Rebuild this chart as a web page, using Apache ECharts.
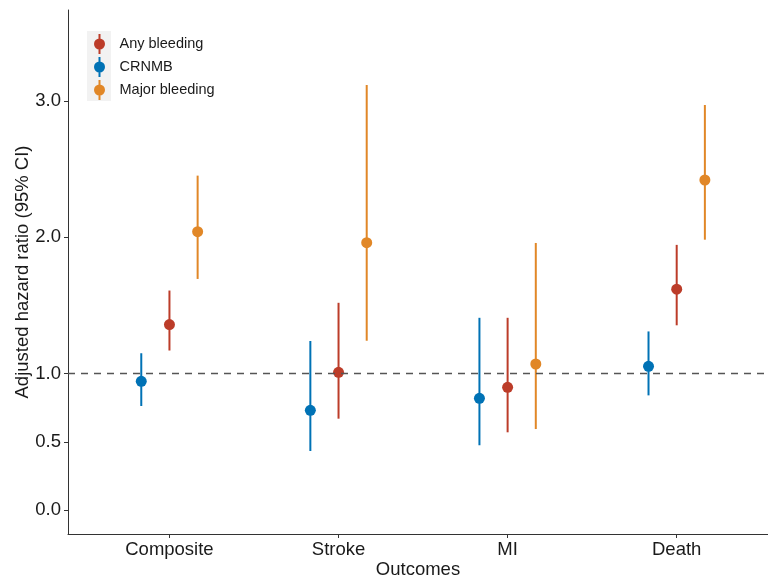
<!DOCTYPE html>
<html>
<head>
<meta charset="utf-8">
<style>
  html, body { margin: 0; padding: 0; background: #fff; }
  #main { width: 768px; height: 577px; }
</style>
<script src="https://cdn.jsdelivr.net/npm/echarts@6/dist/echarts.min.js"></script>
</head>
<body>
<div id="main"></div>
<script>
// data
const outcomes = ["Composite", "Stroke", "MI", "Death"];
const groups = ["Any bleeding", "CRNMB", "Major bleeding"];
const yTicks = [0, 0.5, 1, 2, 3];
const refLine = 1;

// hazard ratio + 95% CI per outcome
const anyHR = [1.36, 1.01, 0.90, 1.62];
const anyLow = [1.17, 0.67, 0.57, 1.355];
const anyHigh = [1.61, 1.52, 1.41, 1.945];

const crnmbHR = [0.944, 0.731, 0.819, 1.054];
const crnmbLow = [0.763, 0.433, 0.475, 0.841];
const crnmbHigh = [1.15, 1.24, 1.41, 1.31];

const majorHR = [2.042, 1.961, 1.071, 2.421];
const majorLow = [1.695, 1.242, 0.594, 1.983];
const majorHigh = [2.453, 3.118, 1.959, 2.971];

const colors = { "Any bleeding": "#BC3C29", "CRNMB": "#0072B5", "Major bleeding": "#E18727" };
const dodge = { "Any bleeding": 0, "CRNMB": -1 / 6, "Major bleeding": 1 / 6 };

const seriesData = {
  "Any bleeding": [anyHR, anyLow, anyHigh],
  "CRNMB": [crnmbHR, crnmbLow, crnmbHigh],
  "Major bleeding": [majorHR, majorLow, majorHigh]
};

const font = "Liberation Sans, Arial, sans-serif";
// point with a vertical bar through it, like the ggplot pointrange key
const keyIcon = "path://M9,0 h2 v20 h-2 z M4.5,10 a5.5,5.5 0 1,1 11,0 a5.5,5.5 0 1,1 -11,0 z";

let chart = echarts.init(document.getElementById("main"));

let series = [];
groups.forEach(function (g, gi) {
  let d = seriesData[g];
  let bars = outcomes.map(function (o, i) {
    return [i + 1 + dodge[g], d[1][i], d[2][i]];
  });
  let pts = outcomes.map(function (o, i) {
    return [i + 1 + dodge[g], d[0][i]];
  });
  series.push({
    name: g,
    type: "custom",
    data: bars,
    silent: true,
    z: 3,
    renderItem: function (params, api) {
      let p1 = api.coord([api.value(0), api.value(1)]);
      let p2 = api.coord([api.value(0), api.value(2)]);
      return {
        type: "line",
        shape: { x1: p1[0], y1: p1[1], x2: p2[0], y2: p2[1] },
        style: { stroke: colors[g], lineWidth: 2 }
      };
    }
  });
  series.push({
    name: g,
    type: "scatter",
    data: pts,
    symbol: "circle",
    symbolSize: 11,
    itemStyle: { color: colors[g], opacity: 1 },
    z: 4,
    markLine: gi === 0 ? {
      silent: true,
      symbol: "none",
      label: { show: false },
      lineStyle: { color: "#555", width: 1.3, type: [7, 6] },
      data: [{ yAxis: refLine }]
    } : undefined
  });
});

let option = {
  animation: false,
  color: groups.map(function (g) { return colors[g]; }),
  grid: { left: 68, right: 0, top: 10, bottom: 43, containLabel: false, outerBoundsMode: "none" },
  graphic: [{
    type: "rect",
    left: 87, top: 31,
    shape: { width: 24, height: 70 },
    style: { fill: "#F2F2F2" },
    z: -1
  }],
  legend: {
    orient: "vertical",
    left: 89, top: 29,
    itemWidth: 20, itemHeight: 20, itemGap: 3,
    selectedMode: false,
    textStyle: { fontFamily: font, fontSize: 14.5, color: "#1a1a1a", padding: [0, 0, 0, 5] },
    data: groups.map(function (g) { return { name: g, icon: keyIcon }; })
  },
  xAxis: {
    type: "value",
    min: 0.4,
    max: 4.54,
    name: "Outcomes",
    nameLocation: "middle",
    nameGap: 26,
    nameMoveOverlap: false,
    nameTextStyle: { fontFamily: font, fontSize: 18.5, color: "#1a1a1a" },
    axisLine: { show: true, onZero: false, lineStyle: { color: "#333", width: 1 } },
    axisTick: { show: true, length: 4, lineStyle: { color: "#333" }, customValues: [1, 2, 3, 4] },
    axisLabel: {
      fontFamily: font, fontSize: 18.5, color: "#1a1a1a", margin: 6,
      customValues: [1, 2, 3, 4],
      formatter: function (v) { return outcomes[Math.round(v) - 1] || ""; }
    },
    splitLine: { show: false }
  },
  yAxis: {
    type: "value",
    min: -0.176,
    max: 3.668,
    name: "Adjusted hazard ratio (95% CI)",
    nameLocation: "middle",
    nameGap: 36,
    nameMoveOverlap: false,
    nameTextStyle: { fontFamily: font, fontSize: 18.5, color: "#1a1a1a" },
    axisLine: { show: true, onZero: false, lineStyle: { color: "#333", width: 1 } },
    axisTick: { show: true, length: 4, lineStyle: { color: "#333" }, customValues: yTicks },
    axisLabel: {
      fontFamily: font, fontSize: 18.5, color: "#1a1a1a", margin: 7,
      customValues: yTicks,
      formatter: function (v) { return v.toFixed(1); }
    },
    splitLine: { show: false }
  },
  series: series
};

chart.setOption(option);
window.onresize = function () {
  chart.resize();
};
</script>
</body>
</html>
